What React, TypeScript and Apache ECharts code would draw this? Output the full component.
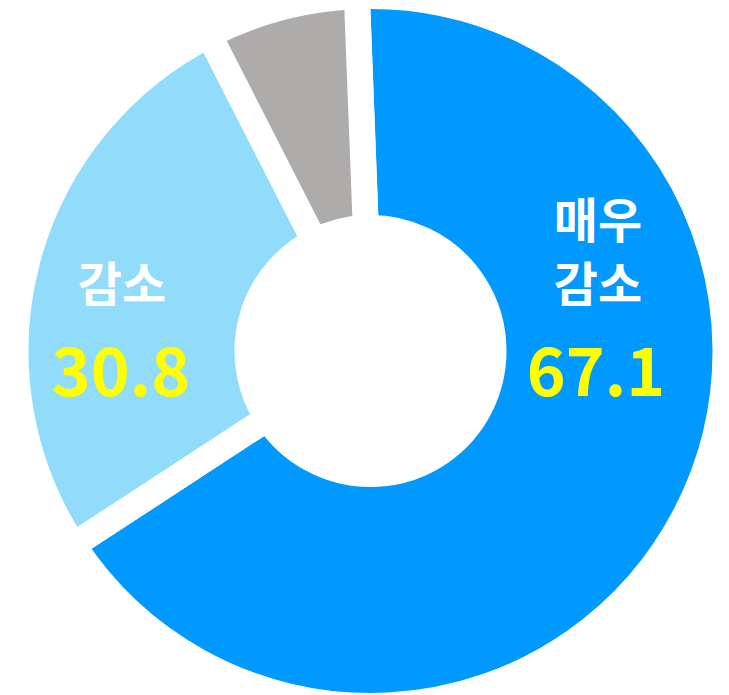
import React, { useEffect, useRef } from "react";
import * as echarts from "echarts";

// Slice names (clockwise from the top) and the displayed label values
const categories = ["매우 감소", "감소", "기타"];
// Slice sizes as drawn in the picture (share of the full circle, %)
const sliceShares = [66.4, 26.7, 6.9];
// Values printed on the chart
const labelValues = ["67.1", "30.8"];
const colors = ["#0099ff", "#92dcfb", "#aeabab"];

export default function App() {
  const ref = useRef<HTMLDivElement>(null);

  useEffect(() => {
    if (!ref.current) return;
    const chart = echarts.init(ref.current, undefined, { renderer: "svg" });

    const nameStyle = {
      fill: "#ffffff",
      fontSize: 48,
      fontWeight: "bold" as const,
      fontFamily: "'Noto Sans CJK KR', 'Noto Sans', sans-serif",
      align: "center" as const,
      verticalAlign: "middle" as const,
    };
    const valStyle = {
      fill: "#ffff00",
      fontSize: 66,
      fontWeight: "bold" as const,
      fontFamily: "'Noto Sans CJK KR', 'Noto Sans', sans-serif",
      align: "center" as const,
      verticalAlign: "middle" as const,
    };

    const rightWords = categories[0].split(" ");

    chart.setOption({
      animation: false,
      backgroundColor: "#ffffff",
      series: [
        {
          type: "pie",
          center: [370.5, 351],
          radius: [123, 355],
          startAngle: 92.2,
          clockwise: true,
          silent: true,
          avoidLabelOverlap: false,
          label: { show: false },
          labelLine: { show: false },
          itemStyle: { borderColor: "#ffffff", borderWidth: 26 },
          data: categories.map((name, i) => ({
            name,
            value: sliceShares[i],
            itemStyle: { color: colors[i] },
          })),
        },
      ],
      graphic: {
        elements: [
          { type: "text", z: 100, x: 598, y: 217, style: { ...nameStyle, text: rightWords[0] } },
          { type: "text", z: 100, x: 598, y: 281, style: { ...nameStyle, text: rightWords[1] } },
          { type: "text", z: 100, x: 596, y: 367, style: { ...valStyle, text: labelValues[0] } },
          { type: "text", z: 100, x: 122, y: 281, style: { ...nameStyle, text: categories[1] } },
          { type: "text", z: 100, x: 121, y: 367, style: { ...valStyle, text: labelValues[1] } },
        ],
      },
    });

    return () => chart.dispose();
  }, []);

  return (
    <div
      ref={ref}
      style={{ position: "absolute", left: 0, top: 0, width: 729, height: 695 }}
    />
  );
}
